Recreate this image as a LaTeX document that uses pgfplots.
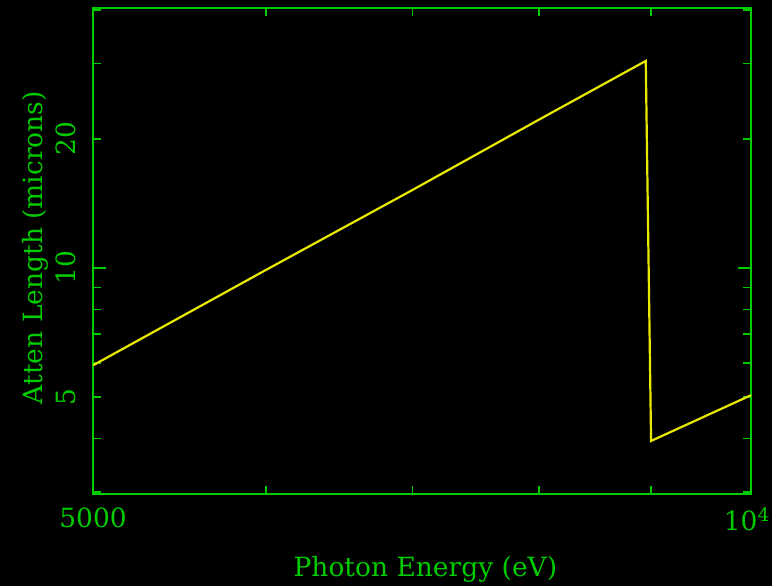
\documentclass[border=0pt]{standalone}
\usepackage{pgfplots}
\pgfplotsset{compat=1.18}
\usepackage{fontspec}
\setmainfont{DejaVu Serif}
\definecolor{pgreen}{RGB}{0,204,0}
\definecolor{pyellow}{RGB}{232,232,0}
\begin{document}
\begin{tikzpicture}[x=1pt,y=1pt]
\fill[black] (-93,-92) rectangle (679,494);
\useasboundingbox (-93,-92) rectangle (679,494);
\begin{axis}[at={(0,0)},anchor=south west, scale only axis, width=658pt, height=486pt,
  xmode=log, ymode=log, xmin=5000, xmax=10000, ymin=2.97, ymax=40.4,
  axis line style={pgreen, line width=2pt},
  tick style={pgreen, line width=1.8pt},
  major tick length=8pt, minor tick length=8pt,
  tick align=inside,
  xtick={5000}, xticklabels={5000},
  extra x ticks={10000}, extra x tick labels={10\textsuperscript{4}},
  extra x tick style={xticklabel style={anchor=north east, xshift=19pt}},
  minor xtick={6000,7000,8000,9000},
  ytick={5,10,20}, yticklabels={5,10,20},
  minor ytick={3,4,6,7,8,9,30,40},
  extra y ticks={10}, extra y tick labels={}, extra y tick style={major tick length=13pt},
  ticklabel style={text=pgreen, font=\fontsize{26.5}{30}\selectfont, inner sep=0pt},
  yticklabel style={rotate=90, anchor=south},
  yticklabel shift=17pt,
  xticklabel shift=14pt,
  xlabel={Photon Energy (eV)}, ylabel={Atten Length (microns)},
  label style={text=pgreen, font=\fontsize{26.5}{30}\selectfont},
  xlabel style={at={(axis description cs:0.505,-0.156)}, anchor=center},
  ylabel style={at={(axis description cs:-0.088,0.507)}, anchor=center},
  clip=false,
]
\addplot[pyellow, line width=2.2pt] coordinates {
 (5000,5.93) (6000,9.9) (7000,15.2) (8000,22.2) (8950,30.4) (9000,3.95) (10000,5.05)
};
\end{axis}
\end{tikzpicture}
\end{document}
